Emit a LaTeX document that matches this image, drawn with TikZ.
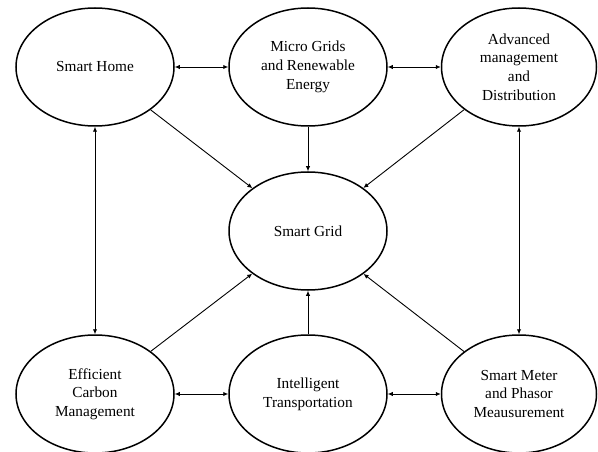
\documentclass[tikz,border=0pt]{standalone}
\usepackage{fontspec}
\setmainfont{Liberation Serif}
\usetikzlibrary{shapes.geometric,arrows.meta}
\tikzset{
  bubble/.style={ellipse,draw,line width=1.5pt,minimum width=158pt,minimum height=118pt,inner sep=0pt,align=center,font=\fontsize{15.3}{18.7}\selectfont},
  conn/.style={line width=0.9pt,-{Latex[length=5pt,width=4.5pt]}},
  biconn/.style={line width=0.9pt,{Latex[length=5pt,width=4.5pt]}-{Latex[length=5pt,width=4.5pt]}}
}
\begin{document}
\begin{tikzpicture}[x=1pt,y=-1pt]
\useasboundingbox (0,0) rectangle (598,452);
\node[bubble] (home) at (95,67) {Smart Home};
\node[bubble] (micro) at (308,67) {Micro Grids\\and Renewable\\Energy};
\node[bubble,minimum width=155pt] (adv) at (519,67) {Advanced\\management\\and\\Distribution};
\node[bubble] (grid) at (308,231) {Smart Grid};
\node[bubble] (carbon) at (95,394) {Efficient\\Carbon\\Management};
\node[bubble] (trans) at (308,394) {Intelligent\\Transportation};
\node[bubble,minimum width=155pt] (meter) at (519,394) {Smart Meter\\and Phasor\\Meausurement};
\draw[biconn] (home) -- (micro);
\draw[biconn] (micro) -- (adv);
\draw[biconn] (home) -- (carbon);
\draw[biconn] (adv) -- (meter);
\draw[biconn] (carbon) -- (trans);
\draw[biconn] (trans) -- (meter);
\draw[conn] (home) -- (grid);
\draw[conn] (micro) -- (grid);
\draw[conn] (adv) -- (grid);
\draw[conn] (carbon) -- (grid);
\draw[conn] (trans) -- (grid);
\draw[conn] (meter) -- (grid);
\end{tikzpicture}
\end{document}
